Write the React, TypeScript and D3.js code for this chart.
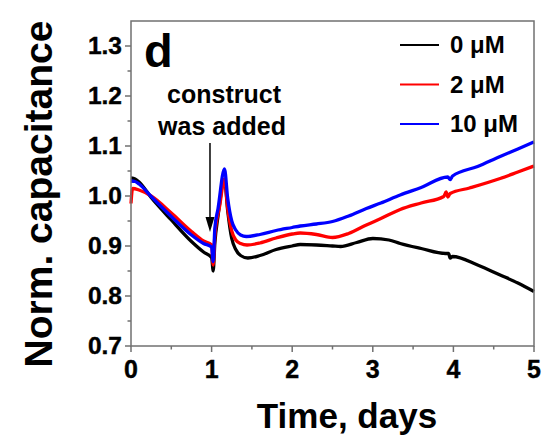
import React from "react";
import * as d3 from "d3";

const seriesNames = ["0 μM", "2 μM", "10 μM"];
const seriesColors = ["#000000", "#ff0000", "#0000ff"];

const t0 = [0, 0.05, 0.1, 0.25, 0.5, 0.75, 0.9, 1.0, 1.02, 1.04, 1.08, 1.16, 1.2, 1.25, 1.3, 1.36, 1.45, 1.6, 1.8, 2.0, 2.1, 2.3, 2.5, 2.6, 2.8, 3.0, 3.2, 3.34, 3.6, 3.9, 3.94, 3.96, 3.99, 4.3, 4.58, 4.8, 5.0];
const v0 = [1.036, 1.034, 1.028, 0.997, 0.952, 0.909, 0.888, 0.877, 0.85, 0.905, 0.96, 1.033, 0.97, 0.915, 0.893, 0.881, 0.876, 0.881, 0.893, 0.9, 0.903, 0.902, 0.9, 0.899, 0.907, 0.915, 0.912, 0.905, 0.895, 0.885, 0.885, 0.876, 0.879, 0.862, 0.842, 0.826, 0.809];

const t2 = [0, 0.02, 0.1, 0.25, 0.5, 0.75, 0.9, 1.0, 1.02, 1.04, 1.1, 1.16, 1.2, 1.25, 1.3, 1.36, 1.44, 1.6, 1.8, 2.0, 2.1, 2.3, 2.5, 2.7, 2.92, 3.1, 3.34, 3.6, 3.88, 3.91, 3.93, 3.96, 4.2, 4.58, 4.8, 5.0];
const v2 = [0.985, 1.015, 1.012, 1.0, 0.966, 0.929, 0.91, 0.902, 0.862, 0.92, 0.98, 1.034, 0.975, 0.93, 0.912, 0.905, 0.902, 0.906, 0.916, 0.924, 0.926, 0.923, 0.917, 0.925, 0.942, 0.955, 0.973, 0.986, 0.999, 1.008, 0.998, 1.005, 1.016, 1.035, 1.048, 1.06];

const t10 = [0, 0.05, 0.1, 0.25, 0.5, 0.75, 0.9, 1.0, 1.02, 1.04, 1.08, 1.16, 1.2, 1.25, 1.3, 1.36, 1.43, 1.6, 1.8, 2.0, 2.1, 2.3, 2.5, 2.7, 2.92, 3.1, 3.34, 3.6, 3.93, 3.96, 3.99, 4.3, 4.58, 4.8, 5.0];
const v10 = [1.03, 1.029, 1.024, 0.999, 0.959, 0.922, 0.905, 0.898, 0.869, 0.935, 0.975, 1.054, 0.995, 0.95, 0.932, 0.922, 0.919, 0.923, 0.931, 0.937, 0.94, 0.944, 0.949, 0.96, 0.975, 0.986, 1.002, 1.017, 1.038, 1.033, 1.04, 1.059, 1.079, 1.094, 1.108];

const xMajorTicks = [0, 1, 2, 3, 4, 5];
const xMinorTicks = [0.5, 1.5, 2.5, 3.5, 4.5];
const yMajorTicks = [0.7, 0.8, 0.9, 1.0, 1.1, 1.2, 1.3];
const yMinorTicks = [0.75, 0.85, 0.95, 1.05, 1.15, 1.25];

const xLabel = "Time, days";
const yLabel = "Norm. capacitance";
const panelLabel = "d";
const annotationLines = ["construct", "was added"];
const annotationTime = 0.98;

export default function App() {
  const left = 131, right = 534, top = 21, bottom = 346;
  const x = d3.scaleLinear().domain([0, 5]).range([left, right]);
  const y = d3.scaleLinear().domain([0.7, 1.35]).range([bottom, top]);
  const line = d3
    .line<[number, number]>()
    .x((d) => x(d[0]))
    .y((d) => y(d[1]))
    .curve(d3.curveMonotoneX);

  const series = [
    { t: t0, v: v0 },
    { t: t2, v: v2 },
    { t: t10, v: v10 },
  ];
  const axisColor = "#707070";
  const font = "'Liberation Sans', Arial, sans-serif";
  const ax = x(annotationTime);

  return (
    <svg
      width={553}
      height={436}
      style={{ position: "absolute", left: 0, top: 0, background: "#fff" }}
      fontFamily={font}
    >
      {series.map((s, i) => (
        <path
          key={i}
          d={line(s.t.map((t, j) => [t, s.v[j]] as [number, number])) || ""}
          fill="none"
          stroke={seriesColors[i]}
          strokeWidth={3.3}
          strokeLinejoin="round"
        />
      ))}
      {/* frame */}
      <rect x={left} y={top} width={right - left} height={bottom - top} fill="none" stroke={axisColor} strokeWidth={1.5} />
      {/* x ticks */}
      {xMajorTicks.map((t) => (
        <g key={"xm" + t}>
          <line x1={x(t)} x2={x(t)} y1={bottom} y2={bottom + 6} stroke={axisColor} strokeWidth={1.5} />
          <text x={x(t)} y={378} textAnchor="middle" fontSize={25} fontWeight="bold" stroke="#000" strokeWidth={0.4}>
            {t}
          </text>
        </g>
      ))}
      {xMinorTicks.map((t) => (
        <line key={"xn" + t} x1={x(t)} x2={x(t)} y1={bottom} y2={bottom + 3.5} stroke={axisColor} strokeWidth={1.5} />
      ))}
      {/* y ticks */}
      {yMajorTicks.map((t) => (
        <g key={"ym" + t}>
          <line x1={left - 6} x2={left} y1={y(t)} y2={y(t)} stroke={axisColor} strokeWidth={1.5} />
          <text x={122} y={y(t) + 8} textAnchor="end" fontSize={24.5} fontWeight="bold" stroke="#000" strokeWidth={0.4}>
            {t.toFixed(1)}
          </text>
        </g>
      ))}
      {yMinorTicks.map((t) => (
        <line key={"yn" + t} x1={left - 3.5} x2={left} y1={y(t)} y2={y(t)} stroke={axisColor} strokeWidth={1.5} />
      ))}
      {/* axis titles */}
      <text x={347} y={428} textAnchor="middle" fontSize={35} fontWeight="bold">
        {xLabel}
      </text>
      <text transform={`translate(52,194) rotate(-90)`} textAnchor="middle" fontSize={39} fontWeight="bold">
        {yLabel}
      </text>
      {/* panel label */}
      <text x={144} y={67} fontSize={47} fontWeight="bold">
        {panelLabel}
      </text>
      {/* annotation */}
      <text x={224} y={103} textAnchor="middle" fontSize={25} fontWeight="bold">
        {annotationLines[0]}
      </text>
      <text x={222} y={135} textAnchor="middle" fontSize={25} fontWeight="bold">
        {annotationLines[1]}
      </text>
      <line x1={ax} x2={ax} y1={143} y2={220} stroke="#000" strokeWidth={1.5} />
      <path d={`M${ax - 4.5},${217} L${ax + 4.5},${217} L${ax},${232} Z`} fill="#000" />
      {/* legend */}
      {seriesNames.map((n, i) => (
        <g key={n}>
          <line x1={400} x2={439} y1={45 + i * 39.5} y2={45 + i * 39.5} stroke={seriesColors[i]} strokeWidth={2} />
          <text x={450} y={53 + i * 39.5} fontSize={24} fontWeight="bold">
            {n}
          </text>
        </g>
      ))}
    </svg>
  );
}
